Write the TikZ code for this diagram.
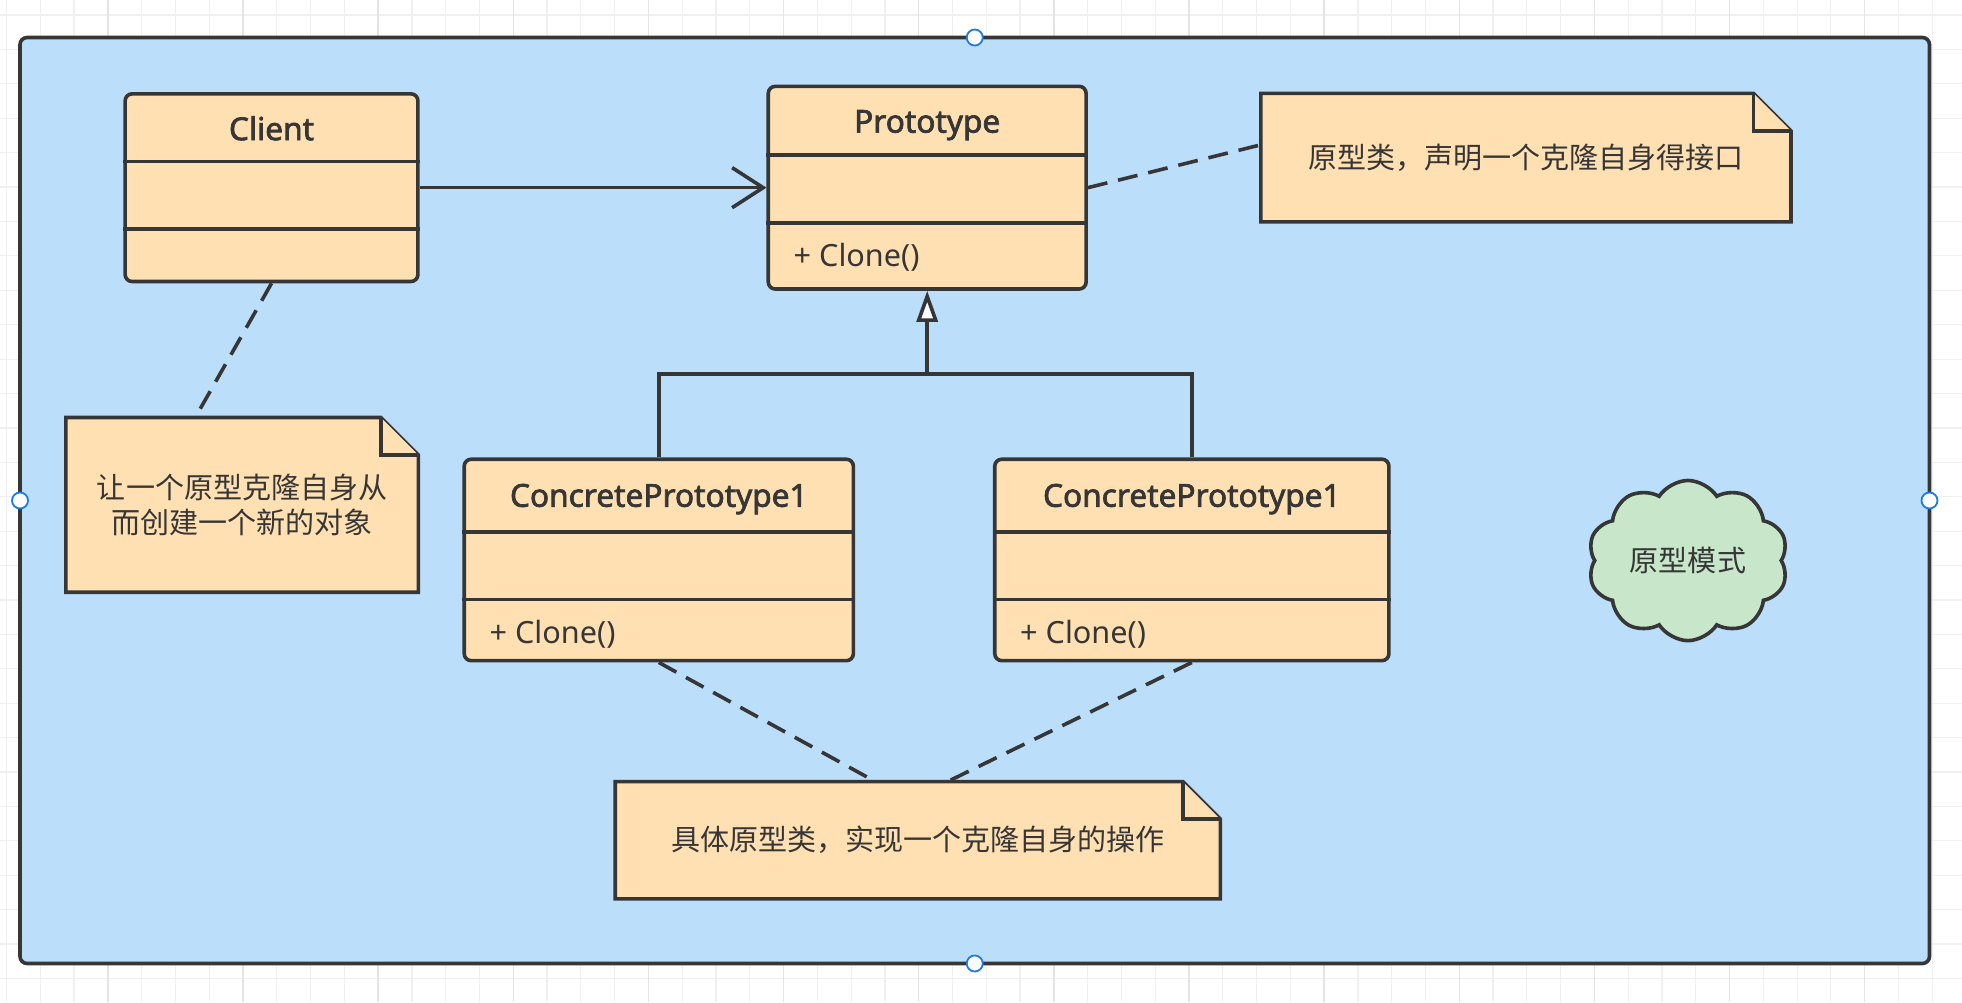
\documentclass[tikz,border=0pt]{standalone}
\usepackage{fontspec}
\setmainfont{Noto Sans}
\newfontfamily\cjk{Noto Sans CJK SC}
\newfontfamily\boldsans{Noto Sans}[FakeBold=2.2]
\usetikzlibrary{arrows.meta,shapes.symbols,calc}

\definecolor{framefill}{HTML}{BBDEFB}
\definecolor{boxfill}{HTML}{FFE0B2}
\definecolor{cloudfill}{HTML}{C8E6C9}
\definecolor{ink}{HTML}{363636}
\definecolor{handlec}{HTML}{1E7BE6}
\definecolor{gridminor}{HTML}{F0F0F0}
\definecolor{gridmajor}{HTML}{E4E4E4}

\pgfdeclarelayer{bg}
\pgfdeclarelayer{notes}
\pgfsetlayers{bg,notes,main}

\newcommand\fs{\fontsize{14.5pt}{17.5pt}\selectfont}
\newcommand\drawnote[1]{%
  \draw[notepath] (#1.north west) -- ([xshift=-18.75pt]#1.north east) -- ([yshift=-18.75pt]#1.north east) -- (#1.south east) -- (#1.south west) -- cycle;
  \draw[notepath] ([xshift=-18.75pt]#1.north east) -- ([xshift=-18.75pt,yshift=-18.75pt]#1.north east) -- ([yshift=-18.75pt]#1.north east);}

\begin{document}
\begin{tikzpicture}[x=0.625pt,y=-0.625pt,
  font=\fs, text=ink,
  frame/.style={draw=ink, fill=framefill, line width=1.8pt, rounded corners=3.5pt, inner sep=0},
  classbox/.style={draw=ink, fill=boxfill, line width=1.8pt, rounded corners=3.5pt, inner sep=0},
  divider/.style={draw=ink, line width=1.8pt},
  title/.style={font=\fontsize{15.8pt}{19pt}\selectfont\boldsans, anchor=base, inner sep=0},
  method/.style={font=\fontsize{15.3pt}{18pt}\selectfont, anchor=base west, inner sep=0},
  notebody/.style={inner sep=0, align=center, font=\fs\cjk},
  notepath/.style={draw=ink, fill=boxfill, line width=1.8pt, line join=miter},
  link/.style={draw=ink, line width=1.8pt},
  dashlink/.style={link, dash pattern=on 10pt off 5.5pt},
  handle/.style={circle, draw=handlec, fill=white, line width=0.9pt, minimum size=8pt, inner sep=0},
  cloudshape/.style={cloud, cloud puffs=10, cloud puff arc=115, cloud ignores aspect, draw=ink, fill=cloudfill, line width=1.8pt, minimum width=100pt, minimum height=80pt, inner sep=0, font=\fs\cjk}
]
\useasboundingbox (0,0) rectangle (1568,801);

\begin{pgfonlayer}{bg}
  \fill[white] (0,0) rectangle (1568,801);
  \foreach \i in {0,...,58} {\draw[gridminor, line width=0.6pt] ({5.2+27*\i},0) -- ({5.2+27*\i},801);}
  \foreach \i in {0,...,29} {\draw[gridminor, line width=0.6pt] (0,{12+27.5*\i}) -- (1568,{12+27.5*\i});}
  \foreach \i in {0,...,14} {\draw[gridmajor, line width=0.7pt] ({86.2+108*\i},0) -- ({86.2+108*\i},801);}
  \node[frame, minimum width=953.75pt, minimum height=462.5pt] (frame) at (779,400) {};
\end{pgfonlayer}

% handles
\node[handle] (htop) at (779,30) {};
\node[handle] (hleft) at (16,400) {};
\node[handle] (hright) at (1542,400) {};
\node[handle] (hbottom) at (779,770) {};

% classes
\node[classbox, minimum width=146.25pt, minimum height=93.75pt] (client) at (217,150) {};
\node[classbox, minimum width=158.75pt, minimum height=101.25pt] (proto) at (741,150) {};
\node[classbox, minimum width=194.375pt, minimum height=100.625pt] (cpl) at (526.5,447.5) {};
\node[classbox, minimum width=196.875pt, minimum height=100.625pt] (cpr) at (952.5,447.5) {};

\draw[divider] (client.west |- 0,129) -- (client.east |- 0,129);
\draw[divider] (client.west |- 0,183) -- (client.east |- 0,183);
\draw[divider] (proto.west |- 0,124) -- (proto.east |- 0,124);
\draw[divider] (proto.west |- 0,178) -- (proto.east |- 0,178);
\draw[divider] (cpl.west |- 0,425) -- (cpl.east |- 0,425);
\draw[divider] (cpl.west |- 0,479) -- (cpl.east |- 0,479);
\draw[divider] (cpr.west |- 0,425) -- (cpr.east |- 0,425);
\draw[divider] (cpr.west |- 0,479) -- (cpr.east |- 0,479);

\node[title] (client-t) at (217,112) {Client};
\node[title] (proto-t) at (741,106) {Prototype};
\node[title] (cpl-t) at (526.5,405) {ConcretePrototype1};
\node[title] (cpr-t) at (952.5,405) {ConcretePrototype1};
\node[method] (proto-m) at (634,213) {+ Clone()};
\node[method] (cpl-m) at (391,514) {+ Clone()};
\node[method] (cpr-m) at (815,514) {+ Clone()};

% notes
\node[notebody, minimum width=264.375pt, minimum height=63.75pt] (note1) at (1219.5,126) {原型类，声明一个克隆自身得接口};
\node[notebody, minimum width=175.625pt, minimum height=86.875pt] (note2) at (193.5,403.5) {让一个原型克隆自身从\\而创建一个新的对象};
\node[notebody, minimum width=301.875pt, minimum height=58.125pt] (note3) at (733.5,671.5) {具体原型类，实现一个克隆自身的操作};
\begin{pgfonlayer}{notes}
  \drawnote{note1}
  \drawnote{note2}
  \drawnote{note3}
\end{pgfonlayer}

% cloud
\node[cloudshape] (cloud) at (1349,448) {原型模式};

% connectors
\draw[link, -{Straight Barb[length=15.5pt, width=20pt]}] (client.east) -- (proto.west);
\coordinate (junction) at (741,299);
\draw[link] (cpl.north) |- (junction) -| (cpr.north);
\draw[link, -{Triangle[length=15.5pt, width=10.5pt, fill=white]}] (junction) -- (proto.south);

\draw[dashlink] (proto.east) -- ($(note1.north west)!0.4!(note1.south west)$);
\draw[dashlink] (client.south) -- ($(note2.north west)!0.367!(note2.north east)$);
\draw[dashlink] (cpl.south) -- ($(note3.north west)!0.43!(note3.north east)$);
\draw[dashlink] (cpr.south) -- ($(note3.north west)!0.549!(note3.north east)$);
\end{tikzpicture}
\end{document}
